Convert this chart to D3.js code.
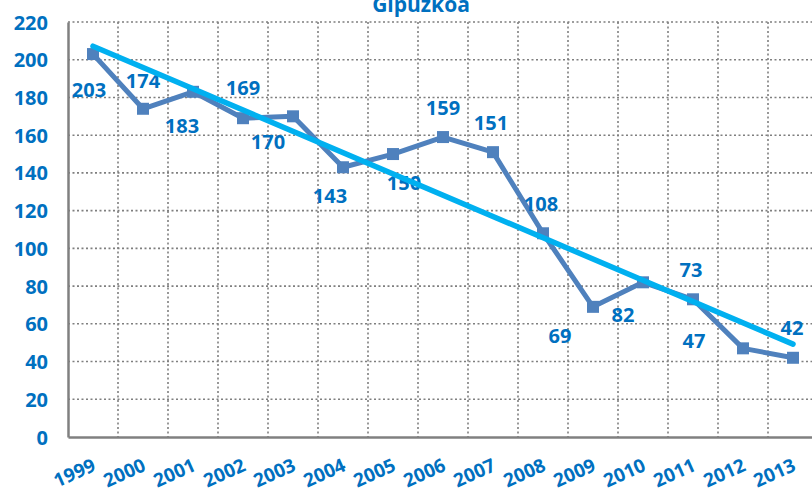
<!DOCTYPE html>
<html>
<head>
<meta charset="utf-8">
<script src="https://cdn.jsdelivr.net/npm/d3@7"></script>
<style>
  html, body { margin: 0; padding: 0; background: #fff; }
  svg { display: block; font-family: "Open Sans", "Noto Sans", sans-serif; }
</style>
</head>
<body>
<svg id="chart" width="812" height="492"></svg>
<script>
const title = "Gipuzkoa";
const years = ["1999","2000","2001","2002","2003","2004","2005","2006","2007","2008","2009","2010","2011","2012","2013"];
const values = [203,174,183,169,170,143,150,159,151,108,69,82,73,47,42];
const yTicks = [0,20,40,60,80,100,120,140,160,180,200,220];
// data label offsets from each point (label placement, as in the original)
const labelDx = [-4, 0, -11, 0, -25, -13, 11, 0, -2, -2, -33, -20, -2, -49, -1];
const labelDy = [43, -21, 41, -23, 33, 36, 36, -22, -22, -22, 36, 40, -22, 0, -23];

const svg = d3.select("#chart");
const pLeft = 68, pRight = 818, pTop = 22, pBottom = 437;
const blue = "#0070C0";

const x = d3.scaleBand().domain(years).range([pLeft, pRight]).paddingInner(0).paddingOuter(0);
const y = d3.scaleLinear().domain([0, 220]).range([pBottom, pTop]);
const cx = d => x(d) + x.bandwidth() / 2;

// grid
const grid = svg.append("g");
grid.selectAll("line.h").data(yTicks.filter(t => t > 0)).join("line")
  .attr("x1", pLeft).attr("x2", 812)
  .attr("y1", d => y(d)).attr("y2", d => y(d))
  .attr("stroke", "#7f7f7f").attr("stroke-width", 1.6).attr("stroke-dasharray", "2,2.5");
grid.selectAll("line.v").data(years.slice(1)).join("line")
  .attr("x1", d => x(d)).attr("x2", d => x(d))
  .attr("y1", pTop).attr("y2", pBottom)
  .attr("stroke", "#7f7f7f").attr("stroke-width", 1.6).attr("stroke-dasharray", "2,2.5");

// axes
const yAxis = d3.axisLeft(y).tickValues(yTicks).tickSize(0).tickPadding(20);
const gy = svg.append("g").attr("transform", `translate(${pLeft},0)`).call(yAxis);
gy.select(".domain").attr("stroke", "#808080").attr("stroke-width", 2.5);
gy.selectAll("text").attr("fill", blue).attr("font-size", 20).attr("font-weight", 700)
  .attr("font-family", "'Open Sans', sans-serif").attr("dy", "0.35em");

const xAxis = d3.axisBottom(x).tickSize(0).tickFormat(d => d);
const gx = svg.append("g").attr("transform", `translate(0,${pBottom})`).call(xAxis);
gx.select(".domain").attr("stroke", "#808080").attr("stroke-width", 2.5);
gx.selectAll("text")
  .attr("fill", blue).attr("font-size", 19).attr("font-weight", 700)
  .attr("font-family", "'Open Sans', sans-serif")
  .attr("text-anchor", "end").attr("dy", 0).attr("y", 0)
  .attr("transform", "translate(4,33) rotate(-24)");

// series line
const line = d3.line().x((d, i) => cx(years[i])).y(d => y(d));
svg.append("path").datum(values).attr("d", line)
  .attr("fill", "none").attr("stroke", "#4F81BD").attr("stroke-width", 5)
  .attr("stroke-linejoin", "round");
svg.selectAll("rect.m").data(values).join("rect")
  .attr("x", (d, i) => cx(years[i]) - 6).attr("y", d => y(d) - 6)
  .attr("width", 12).attr("height", 12).attr("fill", "#4F81BD");

// data labels
svg.selectAll("text.lbl").data(values).join("text")
  .attr("x", (d, i) => cx(years[i]) + labelDx[i])
  .attr("y", (d, i) => y(d) + labelDy[i])
  .attr("text-anchor", "middle").attr("fill", blue)
  .attr("font-size", 20).attr("font-weight", 700)
  .text(d => d);

// linear trendline (least squares)
const n = values.length;
const xs = d3.range(n);
const mx = d3.mean(xs), my = d3.mean(values);
const slope = d3.sum(xs, i => (i - mx) * (values[i] - my)) / d3.sum(xs, i => (i - mx) ** 2);
const intercept = my - slope * mx;
svg.append("line")
  .attr("x1", cx(years[0])).attr("y1", y(intercept))
  .attr("x2", cx(years[n - 1])).attr("y2", y(intercept + slope * (n - 1)))
  .attr("stroke", "#00B0F0").attr("stroke-width", 5.5).attr("stroke-linecap", "round");

// title
svg.append("text").attr("x", 421).attr("y", 12).attr("text-anchor", "middle")
  .attr("fill", blue).attr("font-size", 21).attr("font-weight", 700).text(title);
</script>
</body>
</html>
